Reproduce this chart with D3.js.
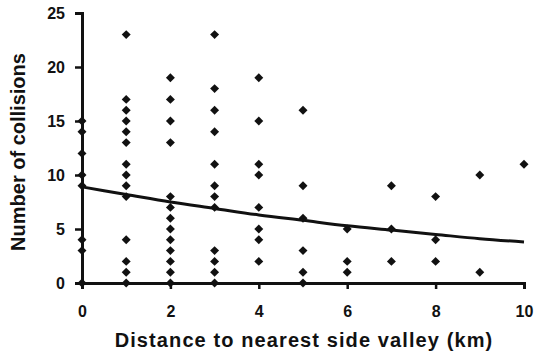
<!DOCTYPE html>
<html>
<head>
<meta charset="utf-8">
<script src="https://cdn.jsdelivr.net/npm/d3@7"></script>
<style>
  body { margin: 0; background: #fff; }
  text { font-family: "Liberation Sans", Arial, sans-serif; font-weight: bold; fill: #111; }
</style>
</head>
<body>
<svg id="chart" width="537" height="356"></svg>
<script>
// collisions per distance class (km)
const distances = [0, 1, 2, 3, 4, 5, 6, 7, 8, 9, 10];
const collisions = [
  [15, 14, 12, 10, 9, 4, 3, 0],
  [23, 17, 16, 15, 14, 13, 11, 10, 9, 8, 4, 2, 1, 0],
  [19, 17, 15, 13, 8, 7, 6, 5, 4, 3, 2, 1, 0],
  [23, 18, 16, 14, 11, 9, 8, 7, 3, 2, 1, 0],
  [19, 15, 11, 10, 7, 5, 4, 2],
  [16, 9, 6, 3, 1, 0],
  [5, 2, 1],
  [9, 5, 2],
  [8, 4, 2],
  [10, 1],
  [11]
];
// fitted curve read at each km
const fitted = [8.9, 8.2, 7.5, 6.9, 6.3, 5.8, 5.3, 4.9, 4.5, 4.1, 3.8];
const xTicks = [0, 2, 4, 6, 8, 10];
const yTicks = [0, 5, 10, 15, 20, 25];

const svg = d3.select('#chart');

const x = d3.scaleLinear().domain([0, 10]).range([82, 524]);
const y = d3.scaleLinear().domain([0, 25]).range([283, 13]);

// axes
const xAxis = svg.append('g')
  .attr('transform', `translate(0,${y(0)})`)
  .call(d3.axisBottom(x).tickValues(xTicks).tickSize(6).tickPadding(17).tickFormat(d3.format('d')));
const yAxis = svg.append('g')
  .attr('transform', `translate(${x(0)},0)`)
  .call(d3.axisLeft(y).tickValues(yTicks).tickSize(7).tickPadding(10).tickFormat(d3.format('d')));

[xAxis, yAxis].forEach(g => {
  g.select('.domain').attr('stroke', '#111').attr('stroke-width', 3);
  g.selectAll('.tick line').attr('stroke', '#111').attr('stroke-width', 2.5);
  g.selectAll('.tick text').attr('font-size', 16).attr('fill', '#111')
    .style('font-family', '"Liberation Sans", Arial, sans-serif').style('font-weight', 'bold');
});

// points
const points = [];
distances.forEach((d, i) => collisions[i].forEach(v => points.push({d, v})));

const diamond = d3.symbol().type(d3.symbolSquare).size(40);
svg.append('g')
  .selectAll('path')
  .data(points)
  .enter()
  .append('path')
  .attr('d', diamond)
  .attr('transform', p => `translate(${x(p.d)},${y(p.v)}) rotate(45)`)
  .attr('fill', '#111');

// fitted line
const line = d3.line()
  .x((_, i) => x(distances[i]))
  .y(v => y(v))
  .curve(d3.curveMonotoneX);
svg.append('path')
  .datum(fitted)
  .attr('d', line)
  .attr('fill', 'none')
  .attr('stroke', '#111')
  .attr('stroke-width', 3);

// axis titles
svg.append('text')
  .attr('x', 304)
  .attr('y', 347)
  .attr('text-anchor', 'middle')
  .attr('font-size', 20)
  .attr('letter-spacing', 1.1)
  .text('Distance to nearest side valley (km)');

svg.append('text')
  .attr('transform', 'translate(25,152) rotate(-90)')
  .attr('text-anchor', 'middle')
  .attr('font-size', 20)
  .text('Number of collisions');
</script>
</body>
</html>
